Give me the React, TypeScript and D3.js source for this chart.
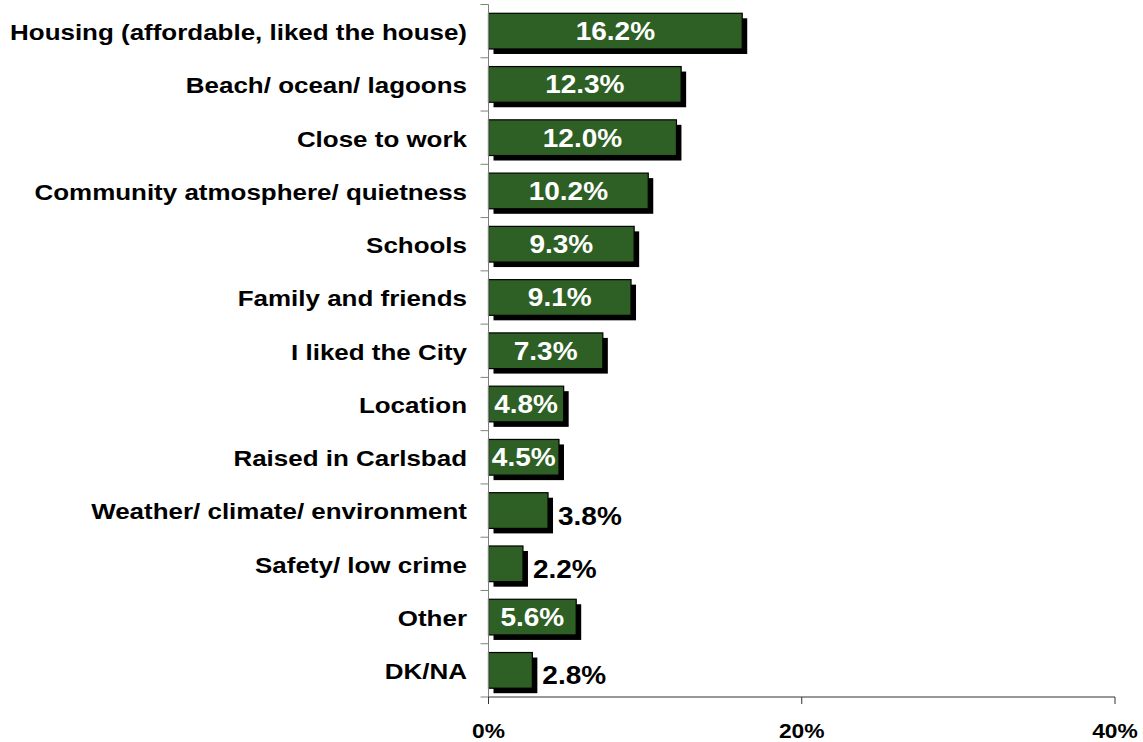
import React from "react";
import * as d3 from "d3";

const categories = [
  "Housing (affordable, liked the house)",
  "Beach/ ocean/ lagoons",
  "Close to work",
  "Community atmosphere/ quietness",
  "Schools",
  "Family and friends",
  "I liked the City",
  "Location",
  "Raised in Carlsbad",
  "Weather/ climate/ environment",
  "Safety/ low crime",
  "Other",
  "DK/NA",
];
const values = [16.2, 12.3, 12.0, 10.2, 9.3, 9.1, 7.3, 4.8, 4.5, 3.8, 2.2, 5.6, 2.8];
const labelInside = [true, true, true, true, true, true, true, true, true, false, false, true, false];
const xTicks = [0, 20, 40];

const W = 1143;
const H = 742;
const left = 488.5;
const right = 1115;
const top = 4.5;
const bottom = 697;

function SText(props: {
  x: number;
  y: number;
  sx: number;
  size: number;
  anchor: "start" | "middle" | "end";
  fill: string;
  dy?: string;
  children: React.ReactNode;
}) {
  return (
    <text
      transform={`translate(${props.x},${props.y}) scale(${props.sx},1)`}
      dy={props.dy}
      textAnchor={props.anchor}
      fill={props.fill}
      fontWeight="bold"
      fontSize={props.size}
    >
      {props.children}
    </text>
  );
}

export default function App() {
  const x = d3.scaleLinear().domain([0, 40]).range([left, right]);
  const y = d3
    .scaleBand<string>()
    .domain(categories)
    .range([top, bottom])
    .paddingInner(0.33)
    .paddingOuter(0.165);
  const step = y.step();
  const bh = y.bandwidth();
  const font = "Arial, 'Liberation Sans', Helvetica, sans-serif";
  const fill = "#2E5F25";
  const sh = 5;

  return (
    <svg
      width={W}
      height={H}
      style={{ position: "absolute", left: 0, top: 0, background: "#fff" }}
      fontFamily={font}
    >
      {categories.map((c, i) => {
        const y0 = y(c)!;
        const x1 = x(values[i]);
        return (
          <g key={c}>
            <rect x={left + sh} y={y0 + sh} width={x1 - left} height={bh} fill="#000" />
            <rect
              x={left}
              y={y0}
              width={x1 - left}
              height={bh}
              fill={fill}
              stroke="#000"
              strokeWidth={1.2}
            />
            {labelInside[i] ? (
              <SText x={(left + x1) / 2} y={y0 + bh / 2} dy="0.36em" sx={1.12} size={25} anchor="middle" fill="#fff">
                {values[i].toFixed(1)}%
              </SText>
            ) : (
              <SText x={x1 + 10} y={y0 + bh / 2 + 5} dy="0.36em" sx={1.12} size={25} anchor="start" fill="#000">
                {values[i].toFixed(1)}%
              </SText>
            )}
            <SText x={467} y={y0 + bh / 2 + 1} dy="0.36em" sx={1.18} size={22} anchor="end" fill="#000">
              {c}
            </SText>
          </g>
        );
      })}
      <line x1={left} x2={left} y1={top} y2={bottom} stroke="#808080" strokeWidth={1} />
      {d3.range(categories.length + 1).map((i) => (
        <line
          key={i}
          x1={left - 8}
          x2={left}
          y1={top + i * step}
          y2={top + i * step}
          stroke="#808080"
          strokeWidth={1}
        />
      ))}
      <line x1={left} x2={right} y1={bottom} y2={bottom} stroke="#333" strokeWidth={1} />
      {xTicks.map((t) => (
        <g key={t}>
          <line x1={x(t)} x2={x(t)} y1={bottom} y2={bottom + 7} stroke="#333" strokeWidth={1} />
          <SText x={x(t)} y={738} sx={1.14} size={20} anchor="middle" fill="#000">
            {t}%
          </SText>
        </g>
      ))}
    </svg>
  );
}
